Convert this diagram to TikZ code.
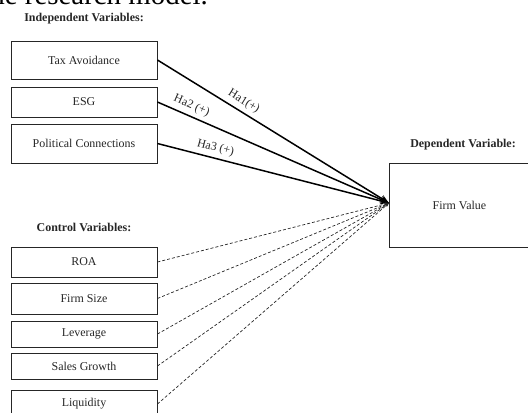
\documentclass[tikz,border=0pt]{standalone}
\usepackage{fontspec}
\setmainfont{Liberation Serif}
\usetikzlibrary{arrows.meta}
\definecolor{ink}{gray}{0.15}
\tikzset{
  varbox/.style={draw=ink, line width=0.9pt, minimum width=146bp, inner sep=0pt, text=ink, font=\fontsize{12}{14}\selectfont},
  head/.style={font=\bfseries\fontsize{12}{14}\selectfont, text=ink, inner sep=0pt},
  hyp/.style={draw=black, line width=1.5pt, -{Stealth[length=9pt,width=7pt]}},
  ctrl/.style={draw=ink, line width=0.7pt, dashed, dash pattern=on 3pt off 2pt, -{Stealth[length=4pt,width=3pt]}},
  hlab/.style={font=\fontsize{12}{14}\selectfont, text=ink, inner sep=1pt, sloped, above=3pt}
}
\begin{document}
\begin{tikzpicture}[x=1bp,y=-1bp]
\useasboundingbox (0,0) rectangle (528,412);
\clip (0,0) rectangle (528,412);
% cropped caption fragment
\node[anchor=base east, inner sep=0pt, font=\fontsize{29}{32}\selectfont] (cap) at (208,4.5) {the research model.};
% headings
\node[head] (hind) at (84,19) {Independent Variables:};
\node[head] (hctl) at (84,227) {Control Variables:};
\node[head] (hdep) at (463,145) {Dependent Variable:};
% independent variables
\node[varbox, minimum height=38bp] (tax) at (84,60) {Tax Avoidance};
\node[varbox, minimum height=30bp] (esg) at (84,102) {ESG};
\node[varbox, minimum height=39bp] (pol) at (84,143.5) {Political Connections};
% control variables
\node[varbox, minimum height=30bp] (roa) at (84,262) {ROA};
\node[varbox, minimum height=31bp] (size) at (84,298.5) {Firm Size};
\node[varbox, minimum height=26bp] (lev) at (84,334) {Leverage};
\node[varbox, minimum height=26bp] (sales) at (84,366) {Sales Growth};
\node[varbox, minimum height=28bp] (liq) at (84,404) {Liquidity};
% dependent variable
\node[varbox, minimum width=140bp, minimum height=84bp, anchor=west] (dv) at (389,205) {Firm Value};
\coordinate (tip) at (389,203);
% hypotheses
\draw[hyp] (tax.east) -- node[hlab, pos=0.35] {Ha1(+)} (tip);
\draw[hyp] (esg.east) -- node[hlab, pos=0.13] {Ha2 (+)} (tip);
\draw[hyp] (pol.east) -- node[hlab, pos=0.24] {Ha3 (+)} (tip);
% controls
\draw[ctrl] (roa.east) -- (tip);
\draw[ctrl] (size.east) -- (tip);
\draw[ctrl] (lev.east) -- (tip);
\draw[ctrl] (sales.east) -- (tip);
\draw[ctrl] (liq.east) -- (tip);
\end{tikzpicture}
\end{document}
